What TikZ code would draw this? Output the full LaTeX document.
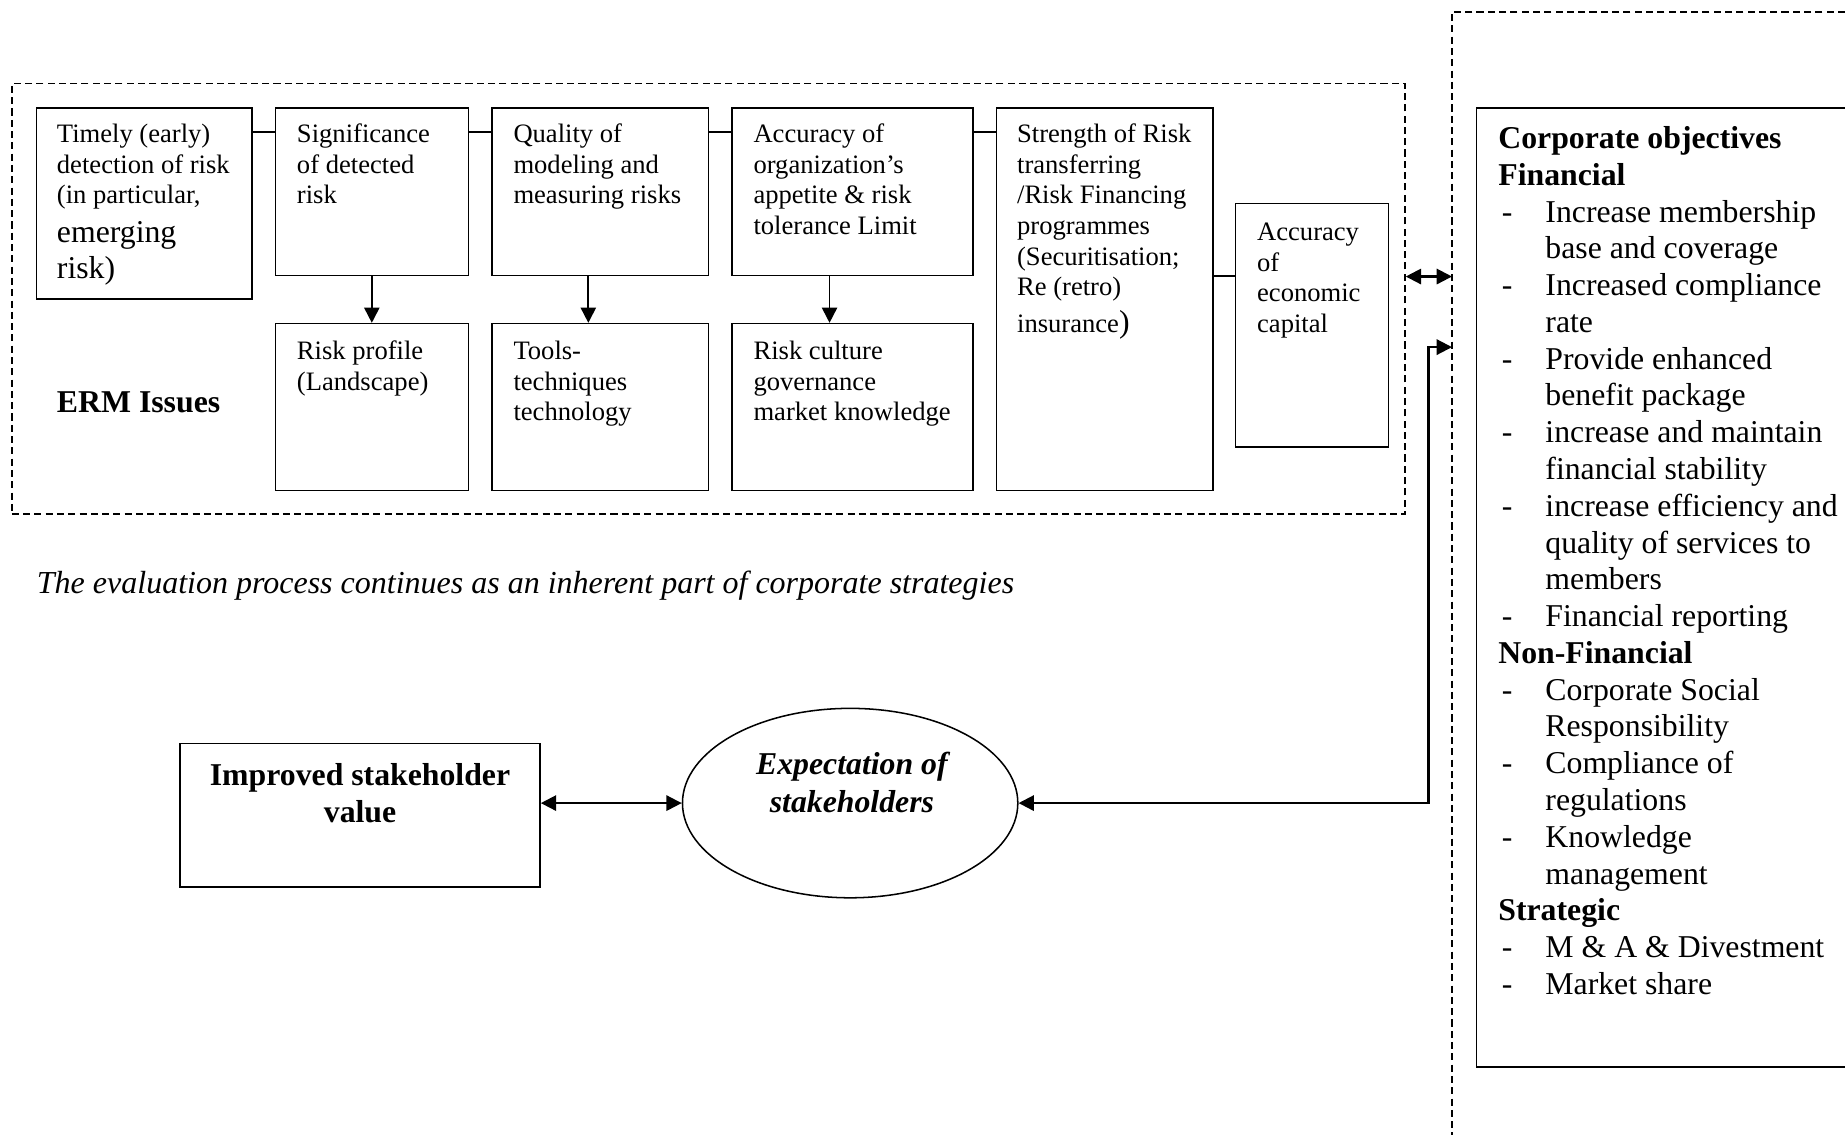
\documentclass[tikz,border=0pt]{standalone}
\usepackage{fontspec}
\setmainfont{Liberation Serif}
\usetikzlibrary{arrows.meta,shapes.geometric,fit,calc}
\newcommand\objdash{\hspace*{1.5pt}\makebox[18.5pt][l]{-}}
\newcommand\objind{\hspace*{20pt}}
\begin{document}
\begin{tikzpicture}[x=0.5pt,y=-0.5pt,
  sbox/.style={draw, line width=0.65pt, inner sep=0pt},
  dbox/.style={draw, line width=0.7pt, dash pattern=on 3pt off 1.8pt, inner sep=0pt},
  dline/.style={line width=0.7pt, dash pattern=on 3pt off 1.8pt},
  smalltxt/.style={font=\fontsize{11.3}{13}\selectfont, align=left, inner sep=0pt, anchor=north west},
  bigtxt/.style={font=\fontsize{13.5}{15.63}\selectfont, inner sep=0pt},
  arr/.style={line width=0.75pt, -{Triangle[length=6.5pt,width=6.5pt]}},
  darr/.style={line width=0.9pt, {Triangle[length=6.5pt,width=6.5pt]}-{Triangle[length=6.5pt,width=6.5pt]}},
  link/.style={line width=0.65pt}]
\useasboundingbox (0,0) rectangle (1568,965);

% ERM region
\node[dbox, fit={(10,71) (1194,437)}] (erm) {};
\node[sbox, fit={(31,92) (214,254)}] (A) {};
\node[sbox, fit={(234,92) (398,234)}] (B) {};
\node[sbox, fit={(418,92) (602,234)}] (C) {};
\node[sbox, fit={(622,92) (827,234)}] (D) {};
\node[sbox, fit={(847,92) (1031,417)}] (E) {};
\node[sbox, fit={(1050,173) (1180,380)}] (F) {};
\node[sbox, fit={(234,275) (398,417)}] (B2) {};
\node[sbox, fit={(418,275) (602,417)}] (C2) {};
\node[sbox, fit={(622,275) (827,417)}] (D2) {};

\node[smalltxt] (At) at (48,105) {Timely (early)\\detection of risk\\(in particular,\\[3.5pt]{\fontsize{13.5}{15.5}\selectfont emerging}\\[2.5pt]{\fontsize{13.5}{15.5}\selectfont risk)}};
\node[smalltxt] (Bt) at (252,105) {Significance\\of detected\\risk};
\node[smalltxt] (Ct) at (436,105) {Quality of\\modeling and\\measuring risks};
\node[smalltxt] (Dt) at (640,105) {Accuracy of\\organization’s\\appetite \& risk\\tolerance Limit};
\node[smalltxt] (Et) at (864,105) {Strength of Risk\\transferring\\/Risk Financing\\programmes\\(Securitisation;\\Re (retro)\\[2.5pt]insurance{\fontsize{13.5}{15.5}\selectfont )}};
\node[smalltxt] (Ft) at (1068,189) {Accuracy\\of\\economic\\capital};
\node[smalltxt] (B2t) at (252,289.5) {Risk profile\\(Landscape)};
\node[smalltxt] (C2t) at (436,289.5) {Tools-\\techniques\\technology};
\node[smalltxt] (D2t) at (640,289.5) {Risk culture\\governance\\market knowledge};

\node[bigtxt, anchor=west, font=\fontsize{13.5}{15.63}\selectfont\bfseries] (ermt) at (48,342) {ERM Issues};

\draw[link] ($(A.north east)+(0,21)$) -- ($(B.north west)+(0,21)$);
\draw[link] ($(B.north east)+(0,21)$) -- ($(C.north west)+(0,21)$);
\draw[link] ($(C.north east)+(0,21)$) -- ($(D.north west)+(0,21)$);
\draw[link] ($(D.north east)+(0,21)$) -- ($(E.north west)+(0,21)$);
\draw[link] (E.east |- D.south) -- (F.west |- D.south);

\draw[arr] (B.south) -- (B2.north);
\draw[arr] ([xshift=-5pt]C.south) -- ([xshift=-5pt]C2.north);
\draw[arr] ([xshift=-9.75pt]D.south) -- ([xshift=-9.75pt]D2.north);

% caption
\node[bigtxt, anchor=west, font=\fontsize{13.6}{15.63}\selectfont\itshape] (cap) at (31,498) {The evaluation process continues as an inherent part of corporate strategies};

% right panel
\draw[dline] (1568,10) -- (1234,10) -- (1234,965);
\draw[link] (1568,92) -- (1255,92) -- (1255,907) -- (1568,907);
\node[bigtxt, align=left, anchor=north west] (obj) at (1273,107) {%
\textbf{Corporate objectives}\\
\textbf{Financial}\\
\objdash Increase membership\\
\objind base and coverage\\
\objdash Increased compliance\\
\objind rate\\
\objdash Provide enhanced\\
\objind benefit package\\
\objdash increase and maintain\\
\objind financial stability\\
\objdash increase efficiency and\\
\objind quality of services to\\
\objind members\\
\objdash Financial reporting\\
\textbf{Non-Financial}\\
\objdash Corporate Social\\
\objind Responsibility\\
\objdash Compliance of\\
\objind regulations\\
\objdash Knowledge\\
\objind management\\
\textbf{Strategic}\\
\objdash M \& A \& Divestment\\
\objdash Market share};

\coordinate (oa) at (1234,235);
\coordinate (ob) at (1234,295);
\draw[darr] (erm.east |- oa) -- (oa);

% bottom
\node[sbox, fit={(153,632) (459,754)}] (isv) {};
\node[bigtxt, align=center, font=\fontsize{13.5}{16}\selectfont\bfseries] (isvt) at (306,674) {Improved stakeholder\\value};
\node[ellipse, draw, line width=0.65pt, inner sep=0pt, minimum width=142.5pt, minimum height=80.5pt] (ell) at (722.5,682.5) {};
\node[bigtxt, align=center, font=\fontsize{13.5}{16}\selectfont\bfseries\itshape] (ellt) at (724,665) {Expectation of\\stakeholders};

\draw[darr] (isv.east |- ell.west) -- (ell.west);
\draw[darr] (ob) -- ++(-20,0) |- (ell.east);
\end{tikzpicture}
\end{document}
